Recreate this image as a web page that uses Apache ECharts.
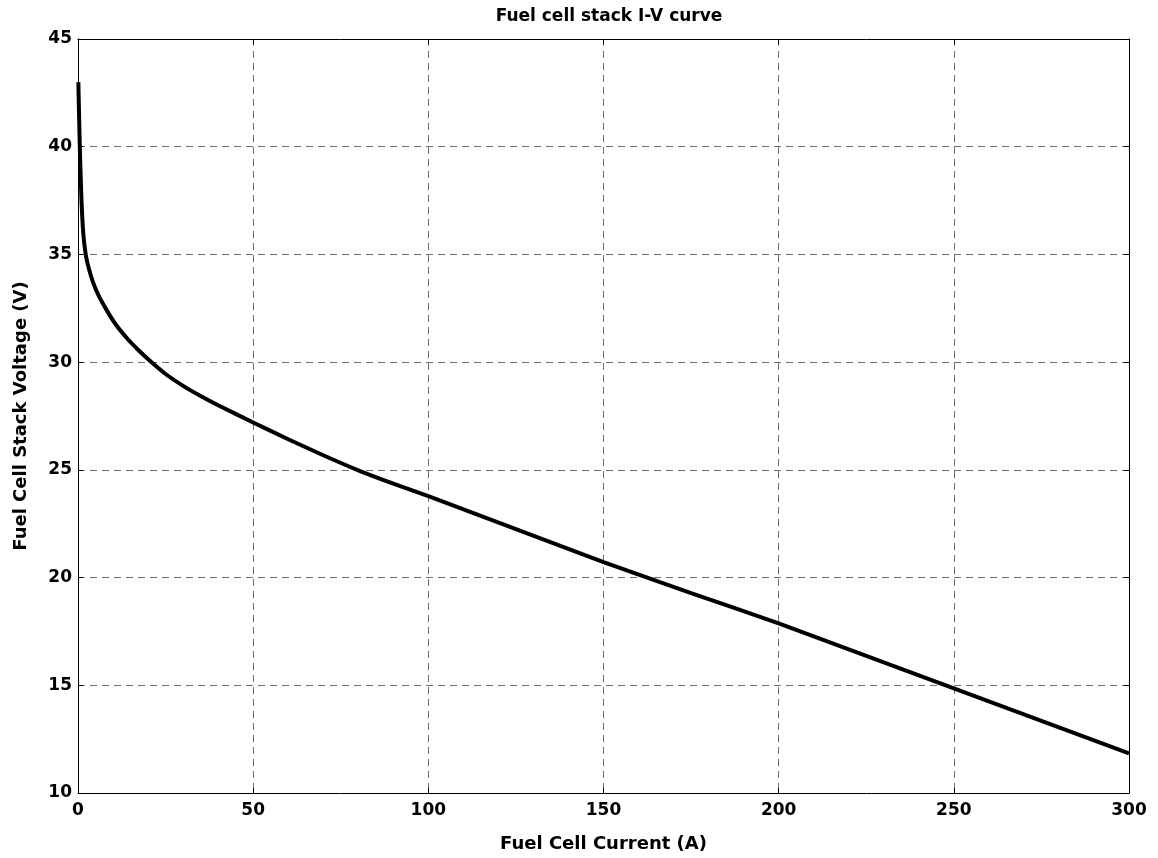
<!DOCTYPE html>
<html>
<head>
    <meta charset="utf-8" />
    <title>Fuel cell stack I-V curve</title>
    <script type="text/javascript" src="https://cdn.jsdelivr.net/npm/echarts@6/dist/echarts.min.js"></script>
    <style>
        html, body { margin: 0; padding: 0; background: #fff; }
        #con1 { width: 1158px; height: 858px; }
    </style>
</head>
<body>
    <div id="con1"></div>
    <script type="text/javascript">
        // values
        var current = [0.1, 0.3, 0.6, 1.0, 1.5, 2.2, 3.0, 4.3, 6.0, 8.6, 11, 14.3, 17, 20.6, 25, 30, 35, 40, 50, 60, 70, 80, 90, 100, 125, 150, 175, 200, 225, 250, 275, 300];
        var voltage = [43.0, 41.5, 39.5, 37.5, 36.0, 35.0, 34.4, 33.7, 33.05, 32.3, 31.7, 31.05, 30.6, 30.05, 29.45, 28.9, 28.43, 28.0, 27.2, 26.42, 25.68, 24.98, 24.36, 23.78, 22.25, 20.72, 19.28, 17.87, 16.36, 14.86, 13.35, 11.84];
        var xTicks = [0, 300, 50];   // min, max, step
        var yTicks = [10, 45, 5];

        var points = [];
        for (var i = 0; i < current.length; i++) {
            points.push([current[i], voltage[i]]);
        }

        var font = '"DejaVu Sans", Arial, sans-serif';
        var gridDash = { color: '#6e6e6e', type: [7, 5], width: 1 };

        var myChart1 = echarts.init(document.getElementById('con1'), null, { renderer: 'canvas' });
        var option1 = {
            backgroundColor: '#ffffff',
            animation: false,
            title: {
                text: 'Fuel cell stack I-V curve',
                left: 604,
                textAlign: 'center',
                top: 3,
                textStyle: { fontFamily: font, fontSize: 17, fontWeight: 'bold', color: '#000' }
            },
            grid: { left: 78, right: 29, top: 39, bottom: 65, show: false },
            xAxis: [{
                type: 'value',
                min: xTicks[0], max: xTicks[1], interval: xTicks[2],
                name: 'Fuel Cell Current (A)',
                nameLocation: 'middle',
                nameGap: 42,
                nameTextStyle: { fontFamily: font, fontSize: 18, fontWeight: 'bold', color: '#000' },
                axisLine: { show: true, onZero: false, lineStyle: { color: '#000', width: 1 } },
                axisTick: { show: true, inside: true, length: 5, lineStyle: { color: '#000' } },
                axisLabel: { fontFamily: font, fontSize: 17, fontWeight: 'bold', color: '#000', margin: 9 },
                splitLine: { show: true, lineStyle: gridDash }
            }, {
                type: 'value', position: 'top',
                min: xTicks[0], max: xTicks[1], interval: xTicks[2],
                axisLine: { show: true, onZero: false, lineStyle: { color: '#000', width: 1 } },
                axisTick: { show: true, inside: true, length: 5, lineStyle: { color: '#000' } },
                axisLabel: { show: false },
                splitLine: { show: false }
            }],
            yAxis: [{
                type: 'value',
                min: yTicks[0], max: yTicks[1], interval: yTicks[2],
                name: 'Fuel Cell Stack Voltage (V)',
                nameLocation: 'middle',
                nameGap: 48,
                nameTextStyle: { fontFamily: font, fontSize: 18, fontWeight: 'bold', color: '#000' },
                axisLine: { show: true, onZero: false, lineStyle: { color: '#000', width: 1 } },
                axisTick: { show: true, inside: true, length: 5, lineStyle: { color: '#000' } },
                axisLabel: { fontFamily: font, fontSize: 17, fontWeight: 'bold', color: '#000', margin: 6 },
                splitLine: { show: true, lineStyle: gridDash }
            }, {
                type: 'value', position: 'right',
                min: yTicks[0], max: yTicks[1], interval: yTicks[2],
                axisLine: { show: true, onZero: false, lineStyle: { color: '#000', width: 1 } },
                axisTick: { show: true, inside: true, length: 5, lineStyle: { color: '#000' } },
                axisLabel: { show: false },
                splitLine: { show: false }
            }],
            series: [{
                type: 'line',
                xAxisIndex: 0,
                yAxisIndex: 0,
                data: points,
                showSymbol: false,
                smooth: 0.2,
                lineStyle: { color: '#000', width: 4 },
                z: 5
            }]
        };
        option1 && myChart1.setOption(option1);
    </script>
</body>
</html>
